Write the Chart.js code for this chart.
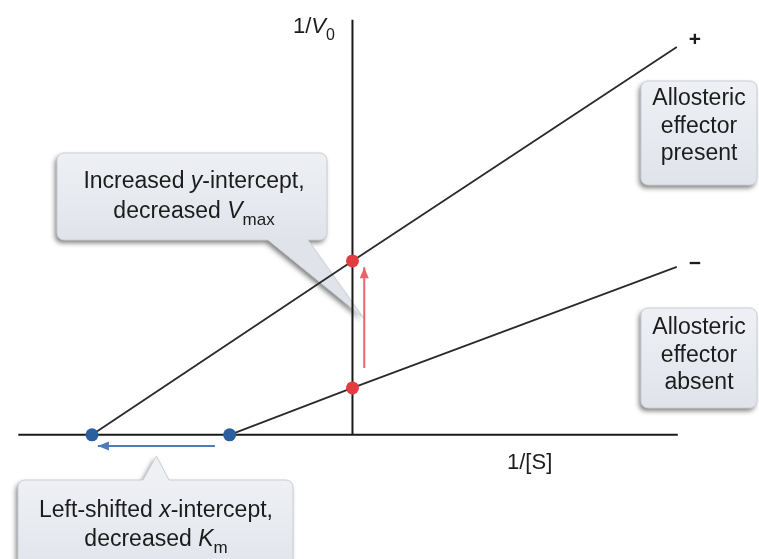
<!DOCTYPE html>
<html>
<head>
<meta charset="utf-8">
<script src="https://cdn.jsdelivr.net/npm/chart.js@4.4.1/dist/chart.umd.min.js"></script>
<style>
  html, body { margin: 0; padding: 0; background: #fff; }
  #wrap { width: 759px; height: 559px; }
</style>
</head>
<body>
<div id="wrap"><canvas id="plot"></canvas></div>
<script>
// Lineweaver-Burk plot: 1/V0 against 1/[S], with and without the allosteric effector
const xIntercepts = [-2.65, -1.25];   // -1/Km : effector present, absent
const yIntercepts = [1.78, 0.48];     // 1/Vmax : effector present, absent
const lineEndX = 3.30;
const lineEndY = [3.97, 1.72];
const lineSigns = ['+', '\u2212'];

const axisXRange = [-3.40, 3.31];     // drawn length of the 1/[S] axis
const axisYRange = [0, 4.25];         // drawn length of the 1/V0 axis

const vmaxArrowX = [0.12, 0.12];
const vmaxArrowY = [0.685, 1.715];
const kmArrowX = [-1.40, -2.59];
const kmArrowY = [-0.115, -0.115];

const FONT = '"Liberation Sans", Arial, Helvetica, sans-serif';
const RED = '#e23c41';
const BLUE = '#2c5f9e';

function pts(xs, ys) {
  return xs.map((x, i) => ({ x: x, y: ys[i] }));
}

// text made of runs, some italic, some subscript, centred (or left aligned) on x
function richText(ctx, runs, x, baseline, size, align) {
  const fontFor = r => (r.i ? 'italic ' : '') + (r.sub ? Math.round(size * 0.72) : size) + 'px ' + FONT;
  let total = 0;
  runs.forEach(r => { ctx.font = fontFor(r); r.w = ctx.measureText(r.t).width; total += r.w; });
  let cx = align === 'left' ? x : x - total / 2;
  ctx.textAlign = 'left';
  ctx.textBaseline = 'alphabetic';
  runs.forEach(r => {
    ctx.font = fontFor(r);
    ctx.fillText(r.t, cx, baseline + (r.sub ? size * 0.3 : 0));
    cx += r.w;
  });
}

function boxPath(ctx, x, y, w, h, r, tail) {
  ctx.beginPath();
  ctx.moveTo(x + r, y);
  if (tail && tail.side === 'top') {
    ctx.lineTo(tail.a, y); ctx.lineTo(tail.tx, tail.ty); ctx.lineTo(tail.b, y);
  }
  ctx.lineTo(x + w - r, y);
  ctx.arcTo(x + w, y, x + w, y + r, r);
  ctx.lineTo(x + w, y + h - r);
  ctx.arcTo(x + w, y + h, x + w - r, y + h, r);
  if (tail && tail.side === 'bottom') {
    ctx.lineTo(tail.b, y + h); ctx.lineTo(tail.tx, tail.ty); ctx.lineTo(tail.a, y + h);
  }
  ctx.lineTo(x + r, y + h);
  ctx.arcTo(x, y + h, x, y + h - r, r);
  ctx.lineTo(x, y + r);
  ctx.arcTo(x, y, x + r, y, r);
  ctx.closePath();
}

function callout(ctx, x, y, w, h, tail) {
  ctx.save();
  const g = ctx.createLinearGradient(0, y, 0, y + h);
  g.addColorStop(0, '#eef0f4');
  g.addColorStop(1, '#e0e4ea');
  boxPath(ctx, x, y, w, h, 7, tail);
  ctx.shadowColor = 'rgba(0,0,0,0.5)';
  ctx.shadowBlur = 5;
  ctx.shadowOffsetX = -2;
  ctx.shadowOffsetY = 3;
  ctx.fillStyle = g;
  ctx.fill();
  ctx.shadowColor = 'transparent';
  ctx.strokeStyle = '#c9ced6';
  ctx.lineWidth = 1;
  ctx.stroke();
  ctx.restore();
}

const calloutPlugin = {
  id: 'callouts',
  beforeDatasetsDraw(chart) {
    const ctx = chart.ctx;
    const xs = chart.scales.x, ys = chart.scales.y;

    // tail tips point at the middle of each shift arrow
    const vTipX = xs.getPixelForValue(vmaxArrowX[0]) - 1;
    const vTipY = (ys.getPixelForValue(vmaxArrowY[0]) + ys.getPixelForValue(vmaxArrowY[1])) / 2;
    const kTipX = (xs.getPixelForValue(kmArrowX[0]) + xs.getPixelForValue(kmArrowX[1])) / 2;
    const kTipY = ys.getPixelForValue(kmArrowY[0]) + 10;

    callout(ctx, 57, 153, 270, 87, { side: 'bottom', a: 268, b: 308, tx: vTipX, ty: vTipY });
    callout(ctx, 18, 480, 275, 100, { side: 'top', a: 143, b: 169, tx: kTipX, ty: kTipY });
    callout(ctx, 641, 81, 116, 104);
    callout(ctx, 641, 308, 116, 100);

    ctx.fillStyle = '#1c1c1c';
    const s = 23;
    richText(ctx, [{ t: 'Increased ' }, { t: 'y', i: true }, { t: '-intercept,' }], 194, 188, s);
    richText(ctx, [{ t: 'decreased ' }, { t: 'V', i: true }, { t: 'max', sub: true }], 194, 218, s);
    richText(ctx, [{ t: 'Left-shifted ' }, { t: 'x', i: true }, { t: '-intercept,' }], 156, 517, s);
    richText(ctx, [{ t: 'decreased ' }, { t: 'K', i: true }, { t: 'm', sub: true }], 156, 546, s);

    ['Allosteric', 'effector', 'present'].forEach((t, i) => richText(ctx, [{ t }], 699, 105 + i * 27.5, s));
    ['Allosteric', 'effector', 'absent'].forEach((t, i) => richText(ctx, [{ t }], 699, 334 + i * 27.5, s));
  },
  afterDatasetsDraw(chart) {
    const ctx = chart.ctx;
    const xs = chart.scales.x, ys = chart.scales.y;

    // arrowheads on the shift arrows
    chart.data.datasets.forEach((ds, di) => {
      if (!ds.arrow) return;
      const p = chart.getDatasetMeta(di).data;
      const a = p[p.length - 2], b = p[p.length - 1];
      const ang = Math.atan2(b.y - a.y, b.x - a.x);
      const len = 11, half = 4.5;
      ctx.save();
      ctx.translate(b.x, b.y);
      ctx.rotate(ang);
      ctx.beginPath();
      ctx.moveTo(0, 0);
      ctx.lineTo(-len, -half);
      ctx.lineTo(-len, half);
      ctx.closePath();
      ctx.fillStyle = ds.borderColor;
      ctx.fill();
      ctx.restore();
    });

    ctx.fillStyle = '#1c1c1c';
    // + / − signs beside the line ends
    lineSigns.forEach((sg, i) => {
      const px = xs.getPixelForValue(lineEndX) + 18;
      const py = ys.getPixelForValue(lineEndY[i]) - (i === 0 ? 7 : 3);
      ctx.font = 'bold 21px ' + FONT;
      ctx.textAlign = 'center';
      ctx.textBaseline = 'middle';
      ctx.fillText(sg, px, py);
    });

    // axis titles
    richText(ctx, [{ t: '1/' }, { t: 'V', i: true }, { t: '0', sub: true }], 293, 33, 22, 'left');
    richText(ctx, [{ t: '1/[S]' }], 507, 469, 22, 'left');
  }
};

const lineColor = '#2a2a2a';
const datasets = [
  {
    label: 'effector present',
    data: [{ x: xIntercepts[0], y: 0 }, { x: 0, y: yIntercepts[0] }, { x: lineEndX, y: lineEndY[0] }],
    borderColor: lineColor, borderWidth: 1.8,
    pointRadius: [6.5, 6.5, 0], pointBorderWidth: 0,
    pointBackgroundColor: [BLUE, RED, RED],
    order: 1
  },
  {
    label: 'effector absent',
    data: [{ x: xIntercepts[1], y: 0 }, { x: 0, y: yIntercepts[1] }, { x: lineEndX, y: lineEndY[1] }],
    borderColor: lineColor, borderWidth: 1.8,
    pointRadius: [6.5, 6.5, 0], pointBorderWidth: 0,
    pointBackgroundColor: [BLUE, RED, RED],
    order: 1
  },
  {
    label: 'Vmax shift', arrow: true,
    data: pts(vmaxArrowX, vmaxArrowY),
    borderColor: '#e8636c', borderWidth: 2, pointRadius: 0,
    order: 2
  },
  {
    label: 'Km shift', arrow: true,
    data: pts(kmArrowX, kmArrowY),
    borderColor: '#4d7db6', borderWidth: 2, pointRadius: 0,
    order: 2
  },
  {
    label: '1/[S] axis',
    data: pts(axisXRange, [0, 0]),
    borderColor: '#1a1a1a', borderWidth: 2, pointRadius: 0,
    order: 5
  },
  {
    label: '1/V0 axis',
    data: pts([0, 0], axisYRange),
    borderColor: '#1a1a1a', borderWidth: 2, pointRadius: 0,
    order: 5
  }
];

new Chart(document.getElementById('plot'), {
  type: 'scatter',
  data: { datasets: datasets.map(d => Object.assign({ showLine: true, fill: false, tension: 0 }, d)) },
  options: {
    responsive: true,
    maintainAspectRatio: false,
    animation: false,
    events: [],
    layout: { padding: 0 },
    plugins: { legend: { display: false }, tooltip: { enabled: false } },
    scales: {
      x: { type: 'linear', min: -3.52, max: 4.07, display: false },
      y: { type: 'linear', min: -1.205, max: 4.385, display: false }
    }
  },
  plugins: [calloutPlugin]
});
</script>
</body>
</html>
